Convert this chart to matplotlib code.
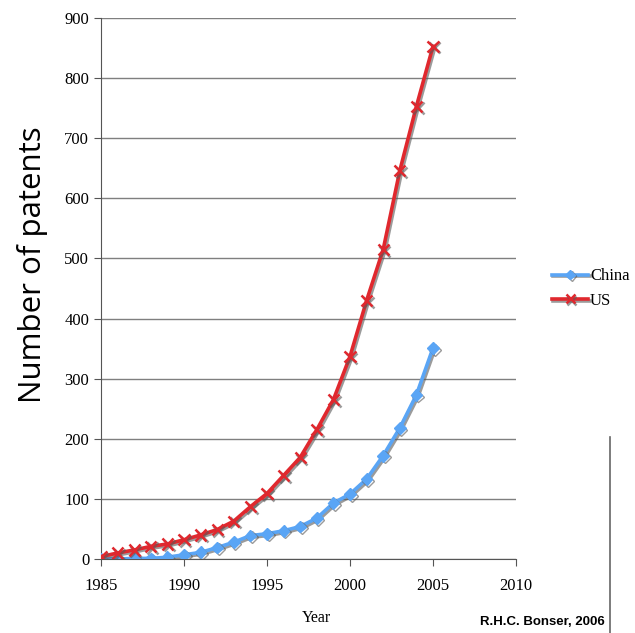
import matplotlib.pyplot as plt
import matplotlib.patheffects as pe

years = list(range(1985, 2006))
china = [0, 0, 1, 1, 3, 7, 11, 19, 28, 39, 42, 47, 54, 68, 93, 108, 133, 172, 218, 273, 351]
us = [4, 10, 15, 21, 25, 32, 40, 49, 63, 87, 109, 139, 169, 215, 265, 337, 430, 515, 646, 753, 853]

serif = 'Liberation Serif'
shadow = [pe.SimpleLineShadow(offset=(1.2, -1.2), shadow_color='0.35', alpha=0.6), pe.Normal()]

fig = plt.figure(figsize=(6.35, 6.33), dpi=100)
ax = fig.add_axes([101 / 635, 1 - 559 / 633, 415 / 635, 541 / 633])

ax.plot(years, china, color='#5aa5f5', lw=2.6, marker='D', ms=6, label='China',
        path_effects=shadow, zorder=3)
ax.plot(years, us, color='#e0282e', lw=2.6, marker='x', ms=8, mew=1.8, label='US',
        path_effects=shadow, zorder=4)

ax.set_xlim(1985, 2010)
ax.set_ylim(0, 900)
ax.set_xticks(range(1985, 2011, 5))
ax.set_yticks(range(0, 901, 100))
ax.yaxis.grid(True, color='#7f7f7f', lw=1)
ax.set_axisbelow(True)
for s in ['top', 'right']:
    ax.spines[s].set_visible(False)
ax.spines['left'].set_color('#555555')
ax.spines['bottom'].set_color('#555555')
ax.tick_params(axis='both', color='#555555', length=5, labelsize=12)
for lab in ax.get_xticklabels() + ax.get_yticklabels():
    lab.set_fontfamily(serif)
ax.tick_params(axis='x', pad=9)

ax.set_xlabel('Year', fontfamily=serif, fontsize=11.5)
ax.xaxis.set_label_coords(0.52, -0.095)
fig.text(33 / 635, 1 - 265 / 633, 'Number of patents', rotation=90, fontfamily='Open Sans',
         fontsize=22.5, ha='center', va='center')

leg = ax.legend(loc='center left', bbox_to_anchor=(1.05, 0.5), frameon=False,
                prop={'family': serif, 'size': 12}, handlelength=2.2, handletextpad=0.1,
                labelspacing=0.5, markerscale=0.8)

fig.text(605 / 635, 1 - 622 / 633, 'R.H.C. Bonser, 2006', fontfamily='Liberation Sans',
         fontweight='bold', fontsize=9.5, ha='right', va='center')
fig.add_artist(plt.Line2D([610 / 635, 610 / 635], [1 - 437 / 633, 0], color='#666666', lw=1.2))

fig.savefig('out.png', dpi=100)
